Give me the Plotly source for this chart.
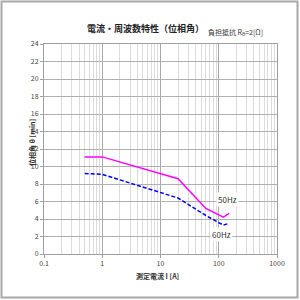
import plotly.graph_objects as go

current_a = [0.5, 1, 20, 60, 120, 150]
phase_50hz = [11.1, 11.1, 8.6, 5.2, 4.2, 4.65]
phase_60hz = [9.2, 9.1, 6.4, 4.4, 3.3, 3.5]
x_ticks = [0.1, 1, 10, 100, 1000]
x_tick_labels = ["0.1", "1", "10", "100", "1000"]

FONT = "Noto Sans CJK JP"
W, H = 300, 300
ml, mr, mt, mb = 44, 23, 44, 46
pw, ph = W - ml - mr, H - mt - mb

def px(x):
    return (x - ml) / pw

def py(y):
    return (H - mb - y) / ph

fig = go.Figure()
fig.add_trace(go.Scatter(x=current_a, y=phase_50hz, mode="lines",
                         line=dict(color="#ff00ff", width=1.5), name="50Hz"))
fig.add_trace(go.Scatter(x=current_a, y=phase_60hz, mode="lines",
                         line=dict(color="#0000ff", width=1.5, dash="4px,2px"), name="60Hz"))

fig.update_layout(
    width=W, height=H,
    margin=dict(l=ml, r=mr, t=mt, b=mb),
    paper_bgcolor="white", plot_bgcolor="white",
    showlegend=False,
    font=dict(family=FONT, size=8, color="#333333"),
    xaxis=dict(type="log", range=[-1, 3], tickvals=x_ticks, ticktext=x_tick_labels,
               showgrid=True, gridcolor="#a8a8a8", gridwidth=1,
               minor=dict(dtick="D1", showgrid=True, gridcolor="#dcdcdc", gridwidth=1),
               showline=True, linecolor="#a0a0a0", mirror=True,
               ticks="outside", ticklen=3, tickcolor="#a0a0a0",
               tickfont=dict(size=7, color="#444444"), zeroline=False),
    yaxis=dict(range=[0, 24], dtick=2,
               showgrid=True, gridcolor="#b0b0b0", gridwidth=1,
               showline=True, linecolor="#a0a0a0", mirror=True,
               ticks="outside", ticklen=3, tickcolor="#a0a0a0",
               tickfont=dict(size=7, color="#444444"), zeroline=False),
)

fig.add_shape(type="rect", xref="paper", yref="paper",
              x0=px(1.5), x1=px(297.5), y0=py(297.5), y1=py(1.5),
              line=dict(color="#a8a8a8", width=2), layer="above")

fig.add_annotation(text="<b>電流・周波数特性（位相角）</b>", xref="paper", yref="paper",
                   x=px(145), y=py(20), showarrow=False,
                   font=dict(family=FONT, size=9, color="#222222"))
fig.add_annotation(text="負担抵抗 R<sub>B</sub>=2[Ω]", xref="paper", yref="paper",
                   x=px(265), y=py(39), xanchor="right", yanchor="bottom", showarrow=False,
                   font=dict(family=FONT, size=7, color="#333333"))
fig.add_annotation(text="<b>位相角 θ [min]</b>", xref="paper", yref="paper",
                   x=px(25), y=py(143), textangle=-90, showarrow=False,
                   font=dict(family=FONT, size=7, color="#333333"))
fig.add_annotation(text="<b>測定電流 I [A]</b>", xref="paper", yref="paper",
                   x=px(157), y=py(283), showarrow=False,
                   font=dict(family=FONT, size=7, color="#333333"))
fig.add_annotation(text="50Hz", x=2.15, y=6.2, xref="x", yref="y", showarrow=False,
                   bgcolor="white", font=dict(family=FONT, size=8, color="#333333"))
fig.add_annotation(text="60Hz", x=2.04, y=2.25, xref="x", yref="y", showarrow=False,
                   bgcolor="white", font=dict(family=FONT, size=8, color="#333333"))

fig.write_html("out.html")
